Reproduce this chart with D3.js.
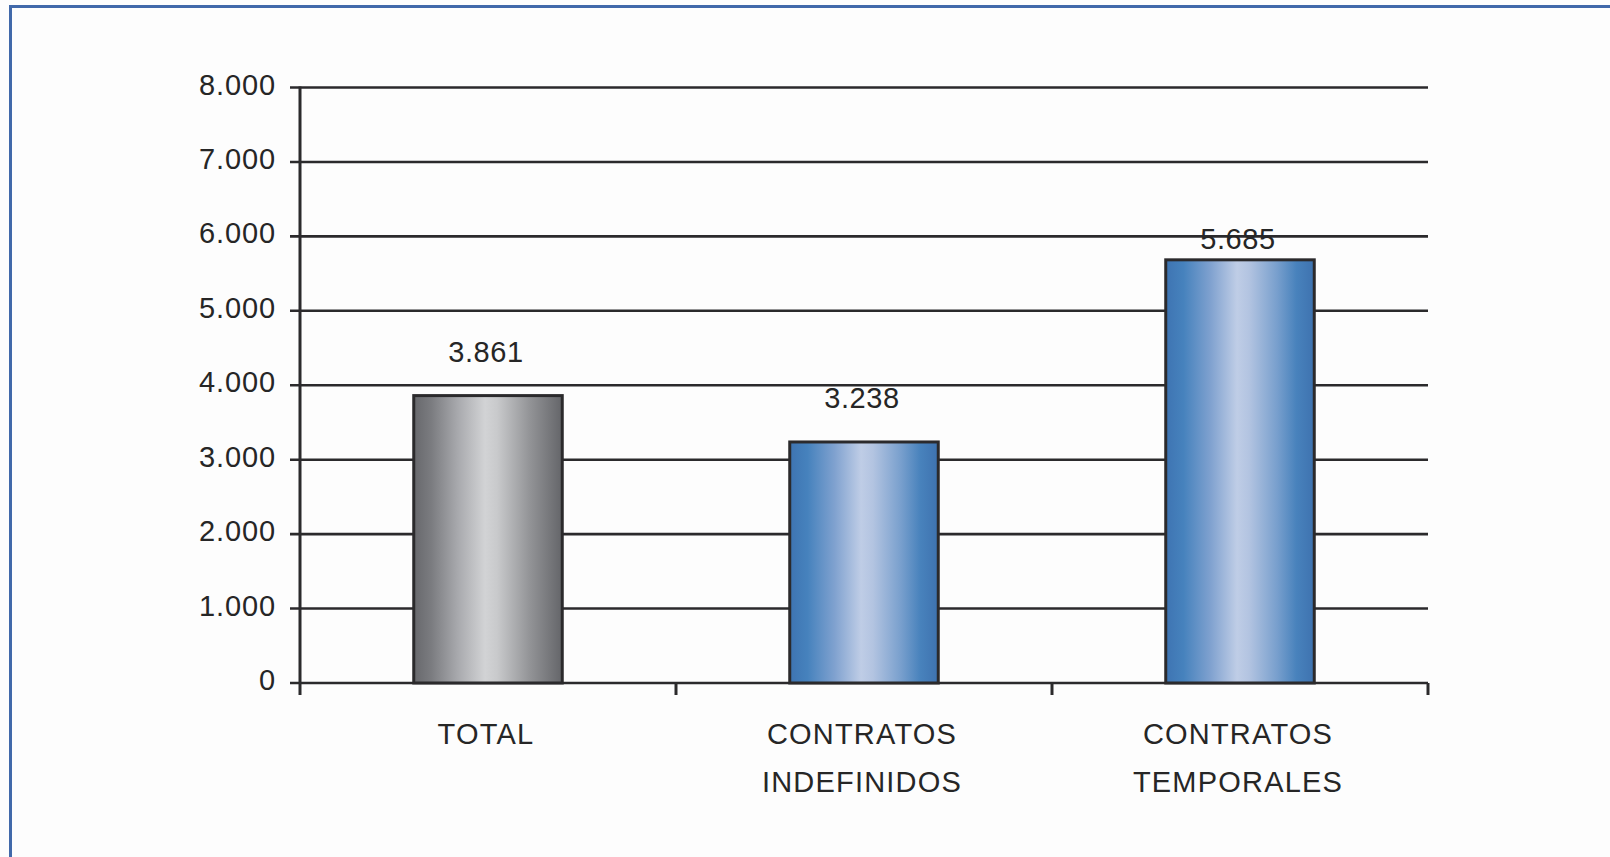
<!DOCTYPE html>
<html>
<head>
<meta charset="utf-8">
<script src="https://cdn.jsdelivr.net/npm/d3@7"></script>
<style>
  body { margin: 0; background: #fdfdfd; }
  svg { display: block; }
  text { font-family: "Liberation Sans", Arial, sans-serif; fill: #262626; }
</style>
</head>
<body>
<svg id="chart" width="1610" height="857"></svg>
<script>
// data
const categories = ['TOTAL', 'CONTRATOS INDEFINIDOS', 'CONTRATOS TEMPORALES'];
const categoryLines = [['TOTAL'], ['CONTRATOS', 'INDEFINIDOS'], ['CONTRATOS', 'TEMPORALES']];
const values = [3861, 3238, 5685];
const valueLabels = ['3.861', '3.238', '5.685'];
const yTicks = [0, 1000, 2000, 3000, 4000, 5000, 6000, 7000, 8000];
const yTickLabels = ['0', '1.000', '2.000', '3.000', '4.000', '5.000', '6.000', '7.000', '8.000'];
const barKinds = ['gray', 'blue', 'blue'];
// how far each value label sits above its bar (the last one is tucked in closer)
const labelGap = [44, 44, 21];

const svg = d3.select('#chart');
const lineColor = '#2b2a2c';

// frame (left + top blue border only)
svg.append('line').attr('x1', 10.5).attr('x2', 10.5).attr('y1', 5).attr('y2', 857)
  .attr('stroke', '#4169aa').attr('stroke-width', 3);
svg.append('line').attr('x1', 9).attr('x2', 1610).attr('y1', 6.5).attr('y2', 6.5)
  .attr('stroke', '#4169aa').attr('stroke-width', 3);

const x = d3.scaleBand().domain(categories).range([300, 1428]).padding(0);
const y = d3.scaleLinear().domain([0, 8000]).range([683, 87.5]);

// gradients
const defs = svg.append('defs');
const grads = {
  gray: [[0, '#67686c'], [0.12, '#7b7c80'], [0.3, '#a9aaae'], [0.48, '#d2d3d5'], [0.56, '#c9cacc'], [0.78, '#939497'], [1, '#646569']],
  blue: [[0, '#3e74b2'], [0.12, '#4682bd'], [0.3, '#7fa1cf'], [0.48, '#bfcde6'], [0.56, '#b3c4e1'], [0.75, '#789fcd'], [0.88, '#4882bc'], [1, '#3e72af']]
};
Object.entries(grads).forEach(([name, stops]) => {
  const g = defs.append('linearGradient').attr('id', 'grad-' + name)
    .attr('x1', '0%').attr('x2', '100%').attr('y1', '0%').attr('y2', '0%');
  stops.forEach(s => g.append('stop').attr('offset', s[0]).attr('stop-color', s[1]));
});

// gridlines + left ticks
svg.append('g').selectAll('line')
  .data(yTicks)
  .enter().append('line')
    .attr('x1', 290).attr('x2', x.range()[1])
    .attr('y1', d => y(d)).attr('y2', d => y(d))
    .attr('stroke', lineColor).attr('stroke-width', 2.6);

// y tick labels
svg.append('g').selectAll('text')
  .data(yTicks)
  .enter().append('text')
    .attr('x', 276)
    .attr('y', d => y(d) - 3)
    .attr('text-anchor', 'end')
    .attr('dominant-baseline', 'central')
    .attr('font-size', 29)
    .attr('letter-spacing', 0.9)
    .text((d, i) => yTickLabels[i]);

// y axis line
svg.append('line')
  .attr('x1', 300).attr('x2', 300).attr('y1', y(8000) - 1).attr('y2', y(0) + 12)
  .attr('stroke', lineColor).attr('stroke-width', 3);

// x axis ticks at category boundaries
const bounds = categories.map(c => x(c)).concat([x.range()[1]]);
svg.append('g').selectAll('line')
  .data(bounds.slice(1))
  .enter().append('line')
    .attr('x1', d => d).attr('x2', d => d)
    .attr('y1', y(0)).attr('y2', y(0) + 12)
    .attr('stroke', lineColor).attr('stroke-width', 3);

// bars
const barW = x.bandwidth() * 0.395;
svg.append('g').selectAll('rect')
  .data(values)
  .enter().append('rect')
    .attr('x', (d, i) => x(categories[i]) + x.bandwidth() / 2 - barW / 2)
    .attr('y', d => y(d))
    .attr('width', barW)
    .attr('height', d => y(0) - y(d))
    .attr('fill', (d, i) => 'url(#grad-' + barKinds[i] + ')')
    .attr('stroke', lineColor).attr('stroke-width', 3);

// value labels
svg.append('g').selectAll('text')
  .data(values)
  .enter().append('text')
    .attr('x', (d, i) => x(categories[i]) + x.bandwidth() / 2 - 2)
    .attr('y', (d, i) => y(d) - labelGap[i])
    .attr('text-anchor', 'middle')
    .attr('dominant-baseline', 'central')
    .attr('font-size', 29)
    .attr('letter-spacing', 0.6)
    .text((d, i) => valueLabels[i]);

// category labels
const catG = svg.append('g').selectAll('text')
  .data(categories)
  .enter().append('text')
    .attr('text-anchor', 'middle')
    .attr('font-size', 29)
    .attr('letter-spacing', 1.2)
    .attr('transform', d => 'translate(' + (x(d) + x.bandwidth() / 2 - 2) + ',0)');
catG.selectAll('tspan')
  .data((d, i) => categoryLines[i])
  .enter().append('tspan')
    .attr('x', 0)
    .attr('y', (d, j) => 744 + j * 48)
    .text(d => d);
</script>
</body>
</html>
